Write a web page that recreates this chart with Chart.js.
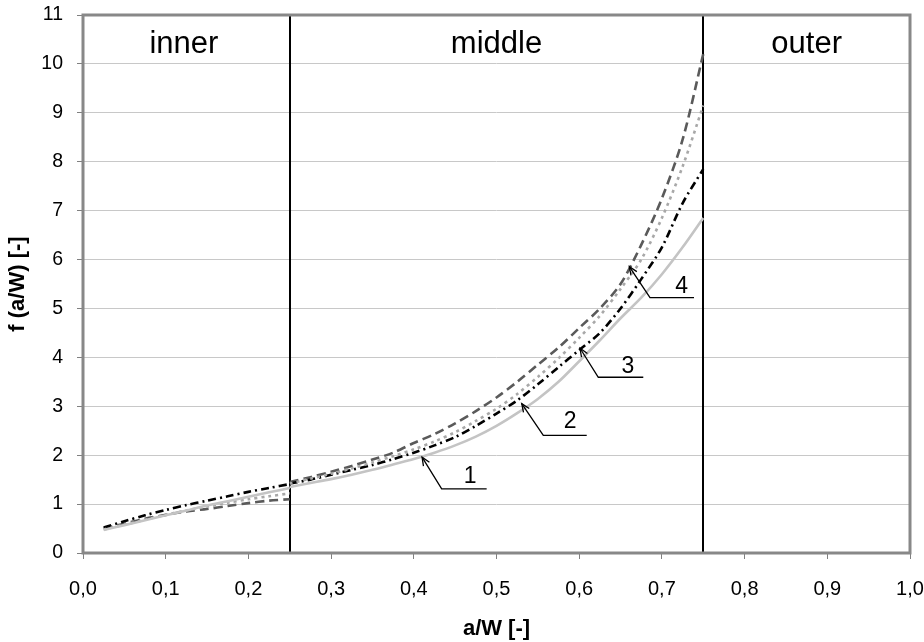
<!DOCTYPE html>
<html><head><meta charset="utf-8">
<script src="https://cdn.jsdelivr.net/npm/chart.js@4/dist/chart.umd.min.js"></script>
<style>html,body{margin:0;padding:0;background:#fff}</style>
</head><body>
<canvas id="c" width="924" height="642"></canvas>
<script>
// ---- data ----
const innerX  = [0.025,0.05,0.075,0.10,0.125,0.15,0.175,0.20,0.225,0.25];
const middleX = [0.25,0.275,0.30,0.325,0.35,0.375,0.40,0.425,0.45,0.475,0.50,0.525,0.55,0.575,0.60,0.625,0.65,0.675,0.70,0.725,0.75];

const curve1Inner  = [0.47,0.57,0.67,0.77,0.87,0.97,1.06,1.15,1.24,1.33];
const curve2Inner  = [0.52,0.65,0.77,0.88,0.98,1.07,1.16,1.25,1.33,1.41];
const curve3Inner  = [0.48,0.58,0.68,0.78,0.87,0.95,1.03,1.10,1.16,1.22];
const curve4Inner  = [0.50,0.60,0.70,0.78,0.85,0.90,0.96,1.02,1.07,1.10];

const curve1Middle = [1.35,1.43,1.51,1.60,1.70,1.81,1.92,2.05,2.20,2.38,2.60,2.86,3.15,3.50,3.92,4.35,4.80,5.22,5.70,6.25,6.85];
const curve2Middle = [1.42,1.50,1.60,1.70,1.80,1.92,2.05,2.20,2.37,2.60,2.85,3.12,3.45,3.80,4.15,4.50,5.00,5.60,6.25,7.15,7.85];
const curve3Middle = [1.42,1.52,1.62,1.73,1.85,1.98,2.12,2.28,2.47,2.70,2.95,3.25,3.60,3.98,4.40,4.85,5.40,6.00,6.85,7.90,9.15];
const curve4Middle = [1.45,1.55,1.66,1.78,1.91,2.05,2.25,2.43,2.65,2.90,3.18,3.50,3.85,4.20,4.60,5.00,5.50,6.30,7.25,8.45,10.20];

const regionLabels = ['inner','middle','outer'];
const regionCenters = [0.122,0.5,0.875];
const regionBounds = [0.25,0.75];

const leaderLabels = ['1','2','3','4'];
const leaderTipX   = [0.410,0.5305,0.601,0.6606];
const leaderTipY   = [1.96,3.054,4.186,5.855];
const leaderElbowX = [0.4337,0.5566,0.6231,0.6856];
const leaderElbowY = [1.313,2.403,3.593,5.221];
const leaderEndX   = [0.4881,0.6091,0.6775,0.7388];
const leaderTextX  = [0.468,0.589,0.659,0.724];
const leaderTextY  = [1.43,2.55,3.69,5.31];

function build(ix, iy, mx, my){
  const pts = ix.map((x,i)=>({x, y: iy[i]}));
  pts.push({x: ix[ix.length-1], y: null});
  mx.forEach((x,i)=>pts.push({x, y: my[i]}));
  return pts;
}

const FONT = "'Liberation Sans', Arial, sans-serif";

const overlay = {
  id:'overlay',
  beforeDatasetsDraw(chart){
    const {ctx, chartArea:a, scales:{x}} = chart;
    ctx.save();
    ctx.strokeStyle='#000'; ctx.lineWidth=2;
    regionBounds.forEach(b=>{
      const px = Math.round(x.getPixelForValue(b));
      ctx.beginPath(); ctx.moveTo(px, a.top); ctx.lineTo(px, a.bottom); ctx.stroke();
    });
    ctx.restore();
  },
  afterDatasetsDraw(chart){
    const {ctx, chartArea:a, scales:{x,y}} = chart;
    ctx.save();
    ctx.strokeStyle='#888888'; ctx.lineWidth=3;
    ctx.strokeRect(a.left, a.top, a.right-a.left, a.bottom-a.top);
    ctx.fillStyle='#000'; ctx.font='31px '+FONT; ctx.textAlign='center'; ctx.textBaseline='alphabetic';
    regionLabels.forEach((t,i)=>ctx.fillText(t, x.getPixelForValue(regionCenters[i]), a.top+38));
    ctx.strokeStyle='#000'; ctx.lineWidth=1.3;
    ctx.font='23px '+FONT;
    leaderLabels.forEach((t,i)=>{
      const tx=x.getPixelForValue(leaderTipX[i]), ty=y.getPixelForValue(leaderTipY[i]);
      const ex=x.getPixelForValue(leaderElbowX[i]), ey=y.getPixelForValue(leaderElbowY[i]);
      const nx=x.getPixelForValue(leaderEndX[i]);
      ctx.beginPath(); ctx.moveTo(tx,ty); ctx.lineTo(ex,ey); ctx.lineTo(nx,ey); ctx.stroke();
      const ang=Math.atan2(ey-ty, ex-tx), L=9, w=0.4;
      ctx.beginPath();
      ctx.moveTo(tx+L*Math.cos(ang+w), ty+L*Math.sin(ang+w));
      ctx.lineTo(tx,ty);
      ctx.lineTo(tx+L*Math.cos(ang-w), ty+L*Math.sin(ang-w));
      ctx.stroke();
      ctx.fillText(t, x.getPixelForValue(leaderTextX[i]), y.getPixelForValue(leaderTextY[i]));
    });
    ctx.restore();
  }
};

const common = {pointRadius:0, borderWidth:2.6, fill:false, spanGaps:false, tension:0.3};

new Chart(document.getElementById('c'), {
  type:'line',
  data:{datasets:[
    {...common, label:'1', data:build(innerX,curve1Inner,middleX,curve1Middle), borderColor:'#c4c4c4'},
    {...common, label:'3', data:build(innerX,curve3Inner,middleX,curve3Middle), borderColor:'#a8a8a8', borderDash:[3,4]},
    {...common, label:'2', data:build(innerX,curve2Inner,middleX,curve2Middle), borderColor:'#000000', borderDash:[8,4,2,4]},
    {...common, label:'4', data:build(innerX,curve4Inner,middleX,curve4Middle), borderColor:'#5a5a5a', borderDash:[9,5]}
  ]},
  options:{
    responsive:false, animation:false, devicePixelRatio:1,
    layout:{padding:{left:0,right:14,top:15,bottom:0}},
    plugins:{legend:{display:false}, tooltip:{enabled:false}},
    scales:{
      x:{type:'linear', min:0, max:1,
        ticks:{stepSize:0.1, color:'#000', padding:18, maxRotation:0, autoSkip:false,
          font:{family:FONT, size:20},
          callback:v=>v.toFixed(1).replace('.',',')},
        grid:{drawOnChartArea:false, drawTicks:true, tickLength:6, tickColor:'#808080'},
        border:{display:false},
        title:{display:true, text:'a/W [-]', color:'#000', font:{family:FONT, size:22, weight:'bold'}, padding:{top:0,bottom:0}},
        afterFit(s){ s.height = 89; s.paddingLeft = 0; s.paddingRight = 0; }
      },
      y:{min:0, max:11,
        ticks:{stepSize:1, color:'#000', padding:14, font:{family:FONT, size:19.5}},
        grid:{color:'#c8c8c8', lineWidth:1, tickLength:6, tickColor:'#808080'},
        border:{display:false},
        title:{display:true, text:'f (a/W) [-]', color:'#000', font:{family:FONT, size:22, weight:'bold'}, padding:{top:5,bottom:0}},
        afterFit(s){ s.width = 83; s.paddingTop = 0; s.paddingBottom = 0; }
      }
    }
  },
  plugins:[overlay]
});
</script>
</body></html>
